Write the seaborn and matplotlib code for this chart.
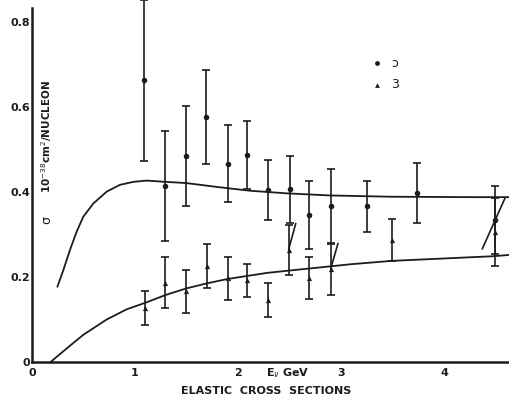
import numpy as np
import pandas as pd
import matplotlib
matplotlib.use("Agg")
import matplotlib.pyplot as plt
import seaborn as sns

# ---- data ----
nu_E = [1.09, 1.29, 1.49, 1.69, 1.90, 2.09, 2.29, 2.50, 2.69, 2.90, 3.25, 3.74, 4.49]
nu_sigma = [0.663, 0.414, 0.485, 0.577, 0.467, 0.487, 0.405, 0.406, 0.346, 0.367, 0.367, 0.398, 0.335]
nu_err = [0.19, 0.13, 0.117, 0.11, 0.09, 0.08, 0.07, 0.08, 0.08, 0.088, 0.06, 0.07, 0.08]

nubar_E = [1.10, 1.29, 1.49, 1.70, 1.90, 2.09, 2.29, 2.49, 2.69, 2.90, 3.49, 4.49]
nubar_sigma = [0.128, 0.187, 0.166, 0.226, 0.197, 0.192, 0.147, 0.264, 0.198, 0.218, 0.287, 0.305]
nubar_err = [0.04, 0.059, 0.05, 0.051, 0.051, 0.038, 0.04, 0.059, 0.05, 0.06, 0.049, 0.08]

curve_nu_E = [0.246, 0.304, 0.369, 0.434, 0.498, 0.595, 0.725, 0.854, 0.984, 1.114, 1.29, 1.44,
              1.50, 1.83, 2.12, 2.47, 2.89, 3.48, 4.28, 4.63]
curve_nu_sigma = [0.177, 0.216, 0.264, 0.307, 0.342, 0.373, 0.401, 0.417, 0.424, 0.427, 0.424, 0.422,
                  0.421, 0.411, 0.403, 0.397, 0.392, 0.389, 0.388, 0.388]

curve_nubar_E = [0.18, 0.337, 0.498, 0.725, 0.919, 1.107, 1.30, 1.495, 1.696, 1.89, 2.02,
                 2.29, 2.69, 3.09, 3.49, 4.48, 4.63]
curve_nubar_sigma = [0.0, 0.032, 0.064, 0.100, 0.124, 0.140, 0.158, 0.173, 0.185, 0.195, 0.200,
                     0.210, 0.220, 0.230, 0.238, 0.249, 0.252]

# slanted connector strokes drawn on the original
slash1_E = [2.56, 2.49]
slash1_sigma = [0.326, 0.264]
slash2_E = [2.97, 2.90]
slash2_sigma = [0.279, 0.220]
slash3_E = [4.37, 4.59]
slash3_sigma = [0.266, 0.385]

legend_labels = ["\u0254", "3"]
x_ticks = [0, 1, 2, 3, 4]
y_ticks = [0, 0.2, 0.4, 0.6, 0.8]
y_tick_labels = ["0", "0.2", "0.4", "0.6", "0.8"]

# ---- figure ----
sns.set_style("white")
plt.rcParams['font.family'] = ['DejaVu Sans']
ink = "#1c1c1c"

W, H = 509, 401
fig = plt.figure(figsize=(W / 100, H / 100), dpi=100)
ax = fig.add_axes([32 / W, 39 / H, (W - 32) / W, (H - 39) / H])

df_nu = pd.DataFrame({"E": curve_nu_E, "s": curve_nu_sigma})
df_nubar = pd.DataFrame({"E": curve_nubar_E, "s": curve_nubar_sigma})
sns.lineplot(data=df_nu, x="E", y="s", ax=ax, color=ink, lw=1.3, sort=True)
sns.lineplot(data=df_nubar, x="E", y="s", ax=ax, color=ink, lw=1.3, sort=True)

for sx, sy in [(slash1_E, slash1_sigma), (slash2_E, slash2_sigma), (slash3_E, slash3_sigma)]:
    ax.plot(sx, sy, color=ink, lw=1.2)

ax.errorbar(nu_E, nu_sigma, yerr=nu_err, fmt="none", ecolor=ink, elinewidth=1.2,
            capsize=3, capthick=1.2, clip_on=False)
ax.errorbar(nubar_E, nubar_sigma, yerr=nubar_err, fmt="none", ecolor=ink, elinewidth=1.2,
            capsize=3, capthick=1.2, clip_on=False)
sns.scatterplot(x=nu_E, y=nu_sigma, ax=ax, color=ink, marker="o", s=16, linewidth=0, zorder=5)
sns.scatterplot(x=nubar_E, y=nubar_sigma, ax=ax, color=ink, marker="^", s=14, linewidth=0, zorder=5)

ax.set_xlim(0, 4.63)
ax.set_ylim(0, 0.852)
ax.set_xlabel("")
ax.set_ylabel("")

for s in ["top", "right"]:
    ax.spines[s].set_visible(False)
for s in ["left", "bottom"]:
    ax.spines[s].set_color(ink)
    ax.spines[s].set_linewidth(1.8)
ax.spines["left"].set_bounds(0, 0.833)

ax.set_xticks(x_ticks)
ax.set_xticklabels([str(t) for t in x_ticks])
ax.set_xticks(np.arange(0.5, 4.6, 1.0), minor=True)
ax.set_yticks(y_ticks)
ax.set_yticklabels(y_tick_labels)
ax.set_yticks(np.arange(0.1, 0.81, 0.2), minor=True)
ax.tick_params(axis="both", which="both", direction="in", length=3, width=1.2, color=ink)
ax.tick_params(axis="x", which="major", pad=4, labelsize=8, labelcolor=ink)
ax.tick_params(axis="y", which="major", pad=1, labelsize=8, labelcolor=ink)
for lab in ax.get_xticklabels() + ax.get_yticklabels():
    lab.set_fontweight("bold")

# axis texts
ax.text(0.146, 0.53, "10$^{-38}$cm$^2$/NUCLEON", rotation=90, ha="center", va="center",
        fontsize=7.5, fontweight="bold", color=ink)
ax.text(0.146, 0.334, "\u03c3", rotation=90, ha="center", va="center",
        fontsize=9, color=ink)
fig.text(288 / W, 1 - 373 / H, "E$_{\\nu}$ GeV", ha="center", va="center",
         fontsize=8, fontweight="bold", color=ink)
fig.text(266 / W, 1 - 391 / H, "ELASTIC  CROSS  SECTIONS", ha="center", va="center",
         fontsize=8, fontweight="bold", color=ink)

# legend (manual)
ax.scatter([3.35], [0.703], color=ink, marker="o", s=12, linewidth=0)
ax.scatter([3.35], [0.652], color=ink, marker="^", s=12, linewidth=0)
ax.text(3.49, 0.703, legend_labels[0], ha="left", va="center", fontsize=9, color=ink)
ax.text(3.49, 0.652, legend_labels[1], ha="left", va="center", fontsize=9, color=ink)

fig.savefig("out.png", dpi=100)
